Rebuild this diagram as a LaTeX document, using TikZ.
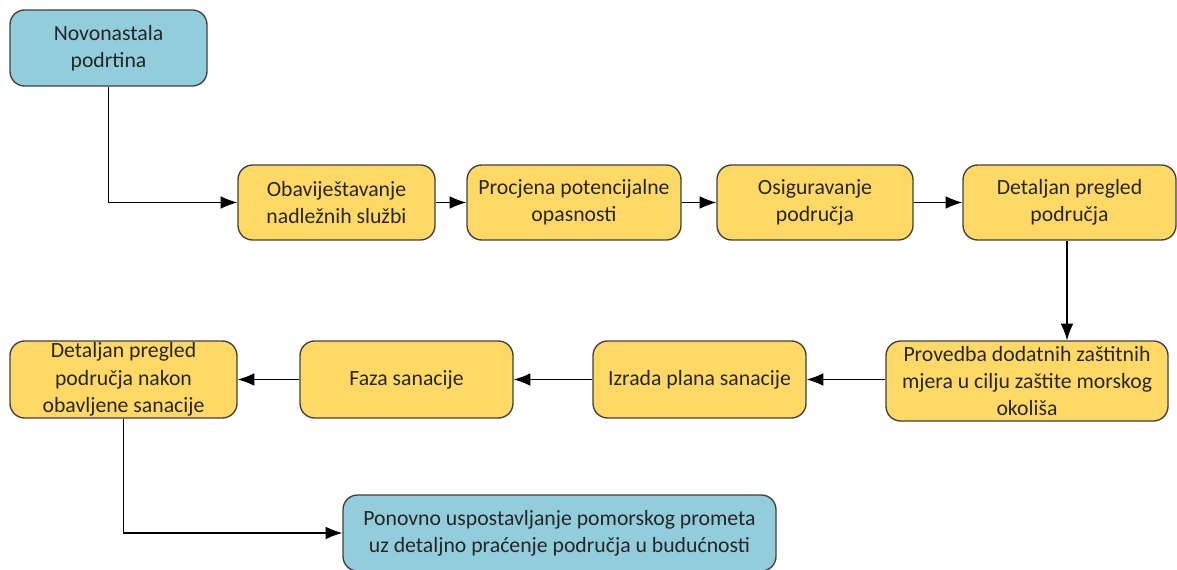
\documentclass[tikz,border=0pt]{standalone}
\usepackage{fontspec}
\setmainfont{Carlito}
\usetikzlibrary{arrows.meta}
\definecolor{boxyellow}{HTML}{FFD966}
\definecolor{boxblue}{HTML}{92CDDC}
\definecolor{boxline}{HTML}{404040}
\begin{document}
\begin{tikzpicture}[x=0.75pt,y=-0.75pt,
  box/.style={draw=boxline,line width=1pt,rounded corners=11pt,align=center,
    font=\fontsize{16.3}{20.5}\selectfont,inner sep=0pt,text=black!85},
  ybox/.style={box,fill=boxyellow},
  bbox/.style={box,fill=boxblue},
  conn/.style={line width=0.9pt,-{Latex[length=12.5pt,width=9.5pt]}}]
\useasboundingbox (0,0) rectangle (1177,570);
\node[bbox,minimum width=197*0.75pt,minimum height=76*0.75pt] (n1) at (108.5,48) {Novonastala\\podrtina};
\node[ybox,minimum width=197*0.75pt,minimum height=75*0.75pt] (a1) at (336.5,202.5) {Obaviještavanje\\nadležnih službi};
\node[ybox,minimum width=214*0.75pt,minimum height=75*0.75pt] (a2) at (574,202.5) {Procjena potencijalne\\opasnosti};
\node[ybox,minimum width=196*0.75pt,minimum height=75*0.75pt] (a3) at (815,202.5) {Osiguravanje\\područja};
\node[ybox,minimum width=213*0.75pt,minimum height=75*0.75pt] (a4) at (1069.5,202.5) {Detaljan pregled\\područja};
\node[ybox,minimum width=282*0.75pt,minimum height=80*0.75pt] (b1) at (1027,381) {Provedba dodatnih zaštitnih\\mjera u cilju zaštite morskog\\okoliša};
\node[ybox,minimum width=213*0.75pt,minimum height=77*0.75pt] (b2) at (699.5,379.5) {Izrada plana sanacije};
\node[ybox,minimum width=213*0.75pt,minimum height=77*0.75pt] (b3) at (406.5,379.5) {Faza sanacije};
\node[ybox,minimum width=227*0.75pt,minimum height=77*0.75pt] (b4) at (123.5,379.5) {Detaljan pregled\\područja nakon\\obavljene sanacije};
\node[bbox,minimum width=433*0.75pt,minimum height=76*0.75pt] (c) at (559.5,533) {Ponovno uspostavljanje pomorskog prometa\\uz detaljno praćenje područja u budućnosti};
\draw[conn] (n1.south) |- (a1.west);
\draw[conn] (a1) -- (a2);
\draw[conn] (a2) -- (a3);
\draw[conn] (a3) -- (a4);
\draw[conn] (a4.south -| 1067,0) -- (b1.north -| 1067,0);
\draw[conn] (b1.west |- b2) -- (b2);
\draw[conn] (b2) -- (b3);
\draw[conn] (b3) -- (b4);
\draw[conn] (b4.south) |- (c.west);
\end{tikzpicture}
\end{document}
